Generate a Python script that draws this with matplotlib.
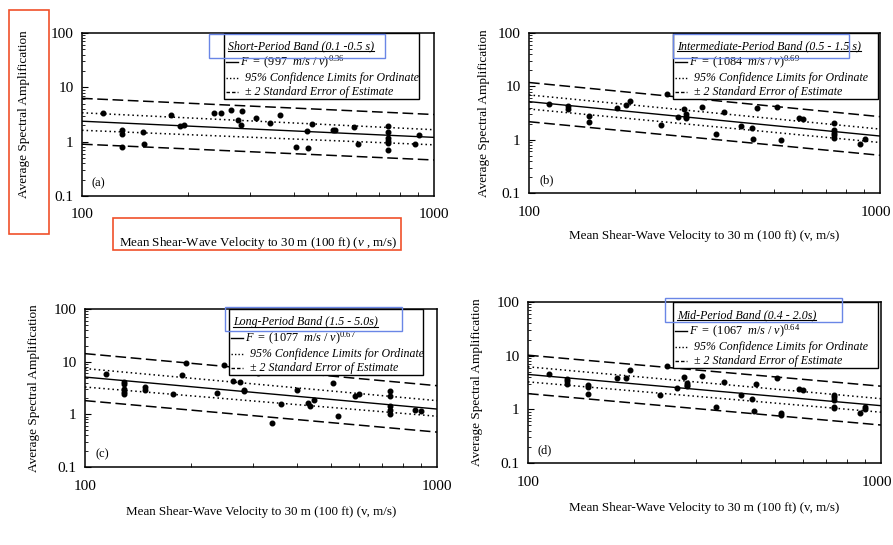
import numpy as np
import matplotlib
matplotlib.use("Agg")
import matplotlib.pyplot as plt
import matplotlib.transforms as mtransforms
from matplotlib.patches import Rectangle

plt.rcParams['font.family'] = ['Liberation Serif', 'DejaVu Serif']
plt.rcParams['mathtext.fontset'] = 'custom'
plt.rcParams['mathtext.rm'] = 'Liberation Serif'
plt.rcParams['mathtext.it'] = 'Liberation Serif:italic'

W, H = 893, 545

# ends of the straight lines (v = 100 and v = 1000)
v_ends = [100, 1000]

# (a) short period
a_v = [114.5, 129.6, 129.6, 129.6, 148.7, 150, 178.6, 189.8, 195, 237.7, 248, 265, 277, 283, 285, 313,
       342, 364, 405, 435, 440, 449, 518, 524, 593, 610, 742, 742, 742, 742, 742, 742, 883, 908]
a_amp = [3.3, 1.61, 1.38, 0.79, 1.48, 0.91, 3.07, 1.97, 2.0, 3.4, 3.3, 3.8, 2.55, 2.0, 3.6, 2.74,
         2.24, 3.07, 0.8, 1.59, 0.77, 2.12, 1.66, 1.65, 1.84, 0.91, 1.94, 1.52, 1.17, 1.02, 0.93, 0.70, 0.9, 1.34]
a_fit = [2.38, 1.2]
a_ci = [[3.4, 1.66], [1.62, 0.875]]
a_se = [[6.27, 3.16], [0.9, 0.46]]

# (b) intermediate period
b_v = [114, 128.8, 128.8, 147.9, 147.9, 178, 189, 194, 237.6, 248, 265.6, 277, 281, 281, 281, 311, 341,
       360, 401, 431, 436, 446, 510, 521, 588, 605, 740, 740, 740, 740, 740, 877, 906]
b_amp = [4.67, 4.2, 3.7, 2.78, 2.17, 4.0, 4.4, 5.3, 1.88, 7.1, 2.66, 3.81, 2.98, 2.7, 2.5, 4.1, 1.25,
         3.25, 1.82, 1.63, 1.04, 3.87, 4.1, 0.97, 2.58, 2.48, 2.02, 1.5, 1.35, 1.2, 1.07, 0.82, 1.05]
b_fit = [5.17, 1.17]
b_ci = [[6.9, 1.58], [3.76, 0.885]]
b_se = [[11.8, 2.7], [2.17, 0.51]]

# (c) long period
c_v = [114.7, 129.4, 129.4, 129.4, 129.4, 129.4, 148.4, 148.4, 178, 188.7, 193.6, 237.8, 248, 264, 276,
       283, 283, 311, 340, 361, 400, 430, 435, 446, 508, 522, 583, 600, 733, 733, 733, 733, 733, 867, 900]
c_amp = [5.8, 4.05, 3.8, 3.0, 2.7, 2.47, 3.3, 2.94, 2.47, 5.6, 9.6, 2.5, 8.8, 4.36, 4.05,
         2.94, 2.75, 6.0, 0.68, 1.57, 2.86, 1.64, 1.42, 1.85, 3.88, 0.94, 2.26, 2.47, 2.81, 2.2, 1.42, 1.23, 1.0, 1.23, 1.16]
c_fit = [5.1, 1.26]
c_ci = [[7.4, 1.82], [3.3, 0.92]]
c_se = [[14.2, 3.5], [1.82, 0.46]]

# (d) mid period
d_v = [114.4, 128.7, 128.7, 128.7, 148, 148, 148, 178.4, 189, 194, 236.7, 247, 265, 277, 283, 283, 283,
       312, 340, 360, 401, 430, 436, 443, 509, 520, 520, 585, 603, 738, 738, 738, 738, 738, 870, 903, 903]
d_amp = [4.47, 3.7, 3.34, 2.98, 2.8, 2.65, 1.96, 3.87, 3.8, 5.5, 1.85, 6.4, 2.47, 4.04, 3.1, 2.85, 2.7,
         4.1, 1.12, 3.3, 1.86, 1.56, 0.94, 2.94, 3.76, 0.84, 0.8, 2.4, 2.3, 1.86, 1.68, 1.52, 1.12, 1.07, 0.84, 1.12, 1.02]
d_fit = [4.47, 1.17]
d_ci = [[6.2, 1.58], [3.25, 0.885]]
d_se = [[10.2, 2.7], [1.96, 0.51]]

titles = ["Short-Period Band (0.1 -0.5 s)", "Intermediate-Period Band (0.5 - 1.5 s)",
          "Long-Period Band (1.5 - 5.0s)", "Mid-Period Band (0.4 - 2.0s)"]
eq_const = ["997", "1084", "1077", "1067"]
eq_exp = ["0.36", "0.69", "0.67", "0.64"]
letters = ["(a)", "(b)", "(c)", "(d)"]
xlabels = ["Mean Shear-Wave Velocity to 30 m (100 ft) ($\\mathit{v}$ , m/s)"] + \
          ["Mean Shear-Wave Velocity to 30 m (100 ft) (v, m/s)"] * 3

# panel boxes in pixels: left, top, right, bottom
ax_px = [(82, 33, 434, 196), (529, 33, 880, 193), (85, 309, 437, 467), (528, 302, 881, 463)]
legend_px = [(224, 419), (673, 878), (229, 423), (673, 878)]
ylab_px = [30, 490, 40, 483]
xlab_py = [235, 230, 506, 502]
blue_px = [(209, 34, 385, 58), (673, 34, 849, 58), (225, 307, 402, 331), (665, 298, 842, 322)]
red_px = [(9, 10, 49, 234), (113, 218, 401, 250)]
shift_1000 = [0, -4, 0, -4]


def fig_rect(l, t, r, b):
    return [l / W, 1 - b / H, (r - l) / W, (b - t) / H]


fig = plt.figure(figsize=(W / 100, H / 100), dpi=100)

data = [(a_v, a_amp, a_fit, a_ci, a_se), (b_v, b_amp, b_fit, b_ci, b_se),
        (c_v, c_amp, c_fit, c_ci, c_se), (d_v, d_amp, d_fit, d_ci, d_se)]

title_texts = []
for i, (v, amp, fit, ci, se) in enumerate(data):
    l, t, r, b = ax_px[i]
    ax = fig.add_axes(fig_rect(l, t, r, b))
    hp = b - t
    wp = r - l
    ax.set_xscale('log')
    ax.set_yscale('log')
    ax.set_xlim(100, 1000)
    ax.set_ylim(0.1, 100)

    ax.plot(v, amp, 'o', color='black', ms=3.3, zorder=3)
    ax.plot(v_ends, fit, '-', color='black', lw=1.0)
    for c in ci:
        ax.plot(v_ends, c, linestyle=(0, (1, 2)), color='black', lw=1.1)
    for s in se:
        ax.plot(v_ends, s, linestyle=(0, (7, 3)), color='black', lw=1.1)

    ax.set_xticks([100, 1000])
    ax.set_xticklabels(['100', '1000'])
    ax.set_yticks([0.1, 1, 10, 100])
    ax.set_yticklabels(['0.1', '1', '10', '100'])
    ax.tick_params(which='both', direction='in', top=False, right=False, labelsize=11)
    ax.tick_params(axis='x', which='major', length=0, pad=9)
    ax.tick_params(axis='x', which='minor', length=3, labelbottom=False)
    ax.tick_params(axis='y', which='major', length=4, pad=6)
    ax.tick_params(axis='y', which='minor', length=2)
    ax.xaxis.set_minor_formatter(plt.NullFormatter())
    for sp in ax.spines.values():
        sp.set_linewidth(1.1)
    if shift_1000[i]:
        lab = ax.get_xticklabels()[1]
        lab.set_transform(lab.get_transform() +
                          mtransforms.ScaledTranslation(shift_1000[i] / 100, 0, fig.dpi_scale_trans))

    ax.set_ylabel("Average Spectral Amplification", fontsize=9.5)
    ax.yaxis.set_label_coords((ylab_px[i] - l) / wp, 0.5)
    ax.set_xlabel(xlabels[i], fontsize=9.4)
    ax.xaxis.set_label_coords(0.5, (b - xlab_py[i]) / hp)

    ax.text(10 / wp, 13 / hp, letters[i], fontsize=9, transform=ax.transAxes, va='center')

    # hand drawn legend block
    lx0, lx1 = legend_px[i]
    x0 = (lx0 - l) / wp
    x1 = (lx1 - l) / wp
    ybot = 1 - 66 / hp
    ax.add_patch(Rectangle((x0, ybot), x1 - x0, 1 - ybot, transform=ax.transAxes,
                           facecolor='white', edgecolor='black', lw=1.0, zorder=4))
    rows = [1 - off / hp for off in (13, 29, 45, 59)]
    tt = ax.text(x0 + 4 / wp, rows[0], titles[i], fontsize=8.6, style='italic',
                 transform=ax.transAxes, va='center', zorder=5)
    title_texts.append((ax, tt))
    seg = [x0 + 2 / wp, x0 + 14 / wp]
    ax.plot(seg, [rows[1]] * 2, '-', color='black', lw=1.0, transform=ax.transAxes, zorder=5)
    ax.plot(seg, [rows[2]] * 2, linestyle=(0, (1, 1.5)), color='black', lw=1.0, transform=ax.transAxes, zorder=5)
    ax.plot(seg, [rows[3]] * 2, linestyle=(0, (2.5, 1.5)), color='black', lw=1.0, transform=ax.transAxes, zorder=5)
    eq = "$\\mathit{F\\ =\\ (" + eq_const[i] + "\\ \\ m/s\\ /\\ v)^{" + eq_exp[i] + "}}$"
    ax.text(x0 + 16 / wp, rows[1], eq, fontsize=8.8, transform=ax.transAxes, va='center', zorder=5)
    ax.text(x0 + 21 / wp, rows[2], "95% Confidence Limits for Ordinate", fontsize=8.6, style='italic',
            transform=ax.transAxes, va='center', zorder=5)
    ax.text(x0 + 21 / wp, rows[3], "\u00b1 2 Standard Error of Estimate", fontsize=8.6, style='italic',
            transform=ax.transAxes, va='center', zorder=5)

    bl, bt, br, bb = blue_px[i]
    fig.add_artist(Rectangle((bl / W, 1 - bb / H), (br - bl) / W, (bb - bt) / H, transform=fig.transFigure,
                             facecolor='none', edgecolor='#6a86e6', lw=1.0, zorder=10))

for (l, t, r, b) in red_px:
    fig.add_artist(Rectangle((l / W, 1 - b / H), (r - l) / W, (b - t) / H, transform=fig.transFigure,
                             facecolor='none', edgecolor='#f0502a', lw=1.2, zorder=10))

# underline the legend titles
fig.canvas.draw()
rend = fig.canvas.get_renderer()
inv = fig.transFigure.inverted()
for ax, tt in title_texts:
    bb = tt.get_window_extent(renderer=rend)
    (fx0, fy0), (fx1, fy1) = inv.transform([(bb.x0, bb.y0), (bb.x1, bb.y1)])
    fig.add_artist(plt.Line2D([fx0, fx1], [fy0 + 1.5 / H, fy0 + 1.5 / H], color='black', lw=0.8,
                              transform=fig.transFigure, zorder=6))

fig.savefig("out.png", dpi=100, facecolor='white')
